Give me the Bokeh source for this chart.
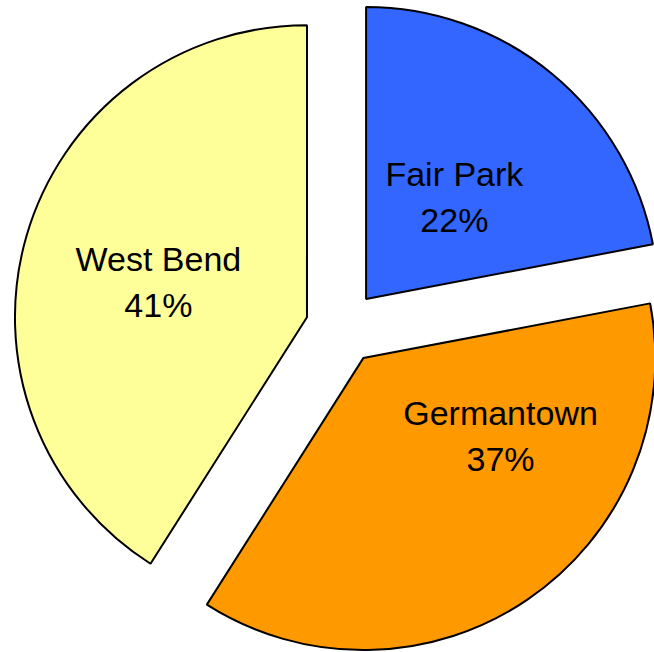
import math
from bokeh.plotting import figure
from bokeh.models import Range1d, ColumnDataSource
from bokeh.core.properties import value
from bokeh.embed import file_html
from bokeh.resources import INLINE

# ---- data ----
categories = ["Fair Park", "Germantown", "West Bend"]
shares = [22, 37, 41]
colors = ["#3366FF", "#FF9900", "#FFFF99"]

# ---- styling / layout constants (pixel-based) ----
W, H = 654, 652
CX, CY = 342.0, -327.0       # pie centre (data units = px, y up)
R = 292.0                    # radius
EXPLODE = 37.0               # explode distance
LBL_R = [0.433, 0.561, 0.515]      # label distance (fraction of R)
LBL_DANG = [4.7, -22.7, -7.3]      # label angle tweak (deg)
LBL_DY = 12                        # vertical label nudge
FONT = "Liberation Sans"
FS = "34px"
HALF_GAP = 23

total = float(sum(shares))
xs, ys, starts, ends = [], [], [], []
name_x, name_y, pct_x, pct_y, pct_txt = [], [], [], [], []
cum = 0.0
for i, v in enumerate(shares):
    s_cw = cum / total * 360.0
    cum += v
    e_cw = cum / total * 360.0
    mid = math.radians((s_cw + e_cw) / 2.0)
    ox = CX + EXPLODE * math.sin(mid)
    oy = CY + EXPLODE * math.cos(mid)
    xs.append(ox)
    ys.append(oy)
    starts.append(math.radians(90.0 - e_cw))
    ends.append(math.radians(90.0 - s_cw))
    la = mid + math.radians(LBL_DANG[i])
    lx = ox + LBL_R[i] * R * math.sin(la)
    ly = oy + LBL_R[i] * R * math.cos(la) + LBL_DY
    name_x.append(lx)
    name_y.append(ly + HALF_GAP)
    pct_x.append(lx)
    pct_y.append(ly - HALF_GAP)
    pct_txt.append(f"{round(v / total * 100)}%")

src = ColumnDataSource(dict(x=xs, y=ys, start=starts, end=ends, color=colors))

p = figure(width=W, height=H, output_backend="svg", toolbar_location=None,
           x_range=Range1d(0, W), y_range=Range1d(-H, 0),
           min_border=0, outline_line_color=None)
p.axis.visible = False
p.grid.visible = False
p.background_fill_color = "white"
p.border_fill_color = "white"

p.wedge(x="x", y="y", radius=R, start_angle="start", end_angle="end",
        direction="anticlock", fill_color="color", line_color="black",
        line_width=2, source=src)

p.text(x=name_x, y=name_y, text=categories, text_align="center",
       text_baseline="alphabetic", text_font=value(FONT), text_font_size=FS,
       text_color="black")
p.text(x=pct_x, y=pct_y, text=pct_txt, text_align="center",
       text_baseline="alphabetic", text_font=value(FONT), text_font_size=FS,
       text_color="black")

open("out.html", "w").write(file_html(p, INLINE))
